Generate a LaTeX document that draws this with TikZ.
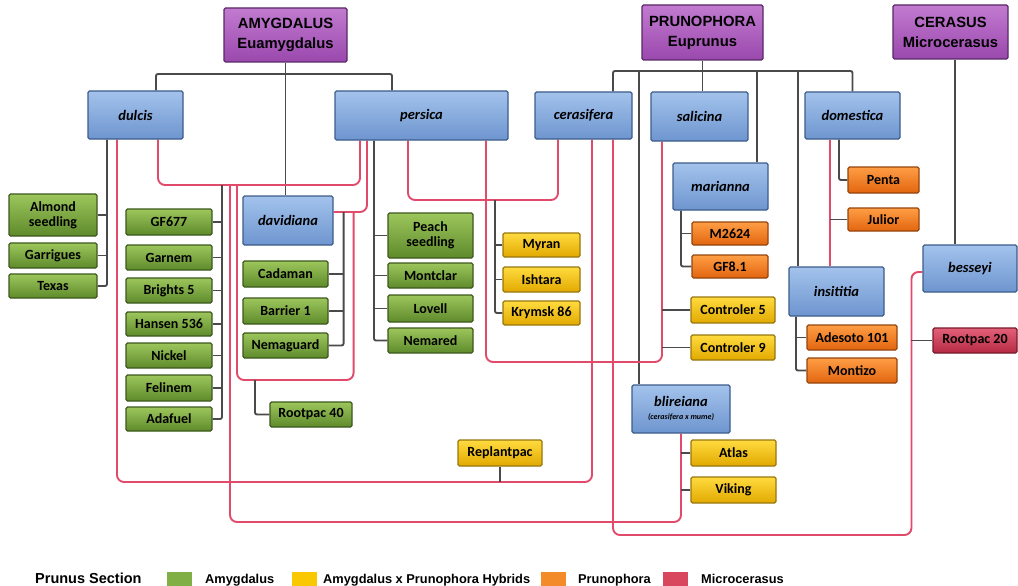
\documentclass[tikz,border=0pt]{standalone}
\usepackage{fontspec}
\setmainfont{Liberation Sans}
\newfontfamily\carl{Carlito}
\usetikzlibrary{backgrounds,calc}
\definecolor{purT}{HTML}{C27BD0}\definecolor{purD}{HTML}{9A48AD}\definecolor{purB}{HTML}{5A2866}
\definecolor{bluT}{HTML}{A3C3EC}\definecolor{bluD}{HTML}{6E95CF}\definecolor{bluB}{HTML}{3D5C8C}
\definecolor{grnT}{HTML}{9DC65C}\definecolor{grnD}{HTML}{5E8A2B}\definecolor{grnB}{HTML}{3D581D}
\definecolor{yelT}{HTML}{FFDB3F}\definecolor{yelD}{HTML}{E2A900}\definecolor{yelB}{HTML}{98770E}
\definecolor{orgT}{HTML}{FF9E45}\definecolor{orgD}{HTML}{E2650F}\definecolor{orgB}{HTML}{96450D}
\definecolor{redT}{HTML}{E4607A}\definecolor{redD}{HTML}{B52A42}\definecolor{redB}{HTML}{781A2A}
\definecolor{rline}{HTML}{E24A6B}\definecolor{dline}{HTML}{4A4A4A}
\definecolor{lgG}{HTML}{7FAF45}\definecolor{lgY}{HTML}{F9C800}\definecolor{lgO}{HTML}{F38C28}\definecolor{lgR}{HTML}{D9475E}
\tikzset{
 box/.style={draw, line width=1.1pt, rounded corners=1.5pt, inner sep=0pt, align=center, text=black},
 pbox/.style={box, draw=purB, top color=purT, bottom color=purD, font=\fontsize{14.8}{20}\selectfont\bfseries},
 bbox/.style={box, draw=bluB, top color=bluT, bottom color=bluD, font=\carl\fontsize{14.5}{16}\selectfont\bfseries\itshape},
 gbox/.style={box, draw=grnB, top color=grnT, bottom color=grnD, font=\carl\fontsize{14}{15}\selectfont\bfseries},
 ybox/.style={box, draw=yelB, top color=yelT, bottom color=yelD, font=\carl\fontsize{14}{15}\selectfont\bfseries},
 obox/.style={box, draw=orgB, top color=orgT, bottom color=orgD, font=\carl\fontsize{14}{15}\selectfont\bfseries},
 rbox/.style={box, draw=redB, top color=redT, bottom color=redD, font=\carl\fontsize{14}{15}\selectfont\bfseries},
 dk/.style={draw=dline, line width=1.9pt, rounded corners=2pt},
 rd/.style={draw=rline, line width=1.9pt, rounded corners=7pt},
 lsq/.style={inner sep=0pt, minimum width=25pt, minimum height=14pt},
 ltx/.style={anchor=base west, inner sep=0pt, font=\fontsize{12.8}{14}\selectfont\bfseries}
}
\begin{document}
\begin{tikzpicture}[x=1pt,y=-1pt]
\begin{scope}[on background layer]
\fill[white] (0,0) rectangle (1018,586);
\end{scope}
\useasboundingbox (0,0) rectangle (1018,586);
% section nodes
\node[pbox, minimum width=123pt, minimum height=54pt] (amy) at (285.5,35) {AMYGDALUS\\Euamygdalus};
\node[pbox, minimum width=121pt, minimum height=55pt] (pru) at (702.5,32.5) {PRUNOPHORA\\Euprunus};
\node[pbox, minimum width=115pt, minimum height=54pt] (cer) at (950.5,32) {CERASUS\\Microcerasus};
% species
\node[bbox, minimum width=95pt, minimum height=48pt] (dulcis) at (135.5,115) {dulcis};
\node[bbox, minimum width=173pt, minimum height=49pt] (persica) at (421.5,115.5) {persica};
\node[bbox, minimum width=97pt, minimum height=47pt] (cerasifera) at (583.5,115.5) {cerasifera};
\node[bbox, minimum width=97pt, minimum height=49pt] (salicina) at (699.5,116.5) {salicina};
\node[bbox, minimum width=95pt, minimum height=47pt] (domestica) at (852.5,115.5) {domestica};
\node[bbox, minimum width=95pt, minimum height=47pt] (marianna) at (720.5,186.5) {marianna};
\node[bbox, minimum width=90pt, minimum height=49pt] (davidiana) at (288,220.5) {davidiana};
\node[bbox, minimum width=95pt, minimum height=49pt] (insititia) at (836.5,291.5) {insititia};
\node[bbox, minimum width=94pt, minimum height=47pt] (besseyi) at (970,268.5) {besseyi};
\node[bbox, minimum width=98pt, minimum height=48pt] (blireiana) at (681,409) {blireiana\\[-3pt]{\fontsize{8}{9}\selectfont (cerasifera x mume)}};
% green
\node[gbox, minimum width=88pt, minimum height=42pt] (almond) at (53,215) {Almond\\seedling};
\node[gbox, minimum width=88pt, minimum height=25pt] (garrigues) at (53,255.5) {Garrigues};
\node[gbox, minimum width=88pt, minimum height=24pt] (texas) at (53,286) {Texas};
\node[gbox, minimum width=86pt, minimum height=26pt] (gf677) at (169,222) {GF677};
\node[gbox, minimum width=86pt, minimum height=25pt] (garnem) at (169,257.5) {Garnem};
\node[gbox, minimum width=86pt, minimum height=25pt] (brights) at (169,290.5) {Brights 5};
\node[gbox, minimum width=86pt, minimum height=24pt] (hansen) at (169,324) {Hansen 536};
\node[gbox, minimum width=86pt, minimum height=25pt] (nickel) at (169,355.5) {Nickel};
\node[gbox, minimum width=86pt, minimum height=26pt] (felinem) at (169,388) {Felinem};
\node[gbox, minimum width=86pt, minimum height=24pt] (adafuel) at (169,419) {Adafuel};
\node[gbox, minimum width=85pt, minimum height=26pt] (cadaman) at (285.5,274) {Cadaman};
\node[gbox, minimum width=85pt, minimum height=26pt] (barrier) at (285.5,311) {Barrier 1};
\node[gbox, minimum width=85pt, minimum height=25pt] (nemaguard) at (285.5,345.5) {Nemaguard};
\node[gbox, minimum width=82pt, minimum height=25pt] (rootpac40) at (311,414.5) {Rootpac 40};
\node[gbox, minimum width=85pt, minimum height=45pt] (peach) at (430.5,235.5) {Peach\\seedling};
\node[gbox, minimum width=85pt, minimum height=25pt] (montclar) at (430.5,275.5) {Montclar};
\node[gbox, minimum width=85pt, minimum height=27pt] (lovell) at (430.5,308.5) {Lovell};
\node[gbox, minimum width=85pt, minimum height=25pt] (nemared) at (430.5,340.5) {Nemared};
% yellow
\node[ybox, minimum width=77pt, minimum height=24pt] (myran) at (541.5,245) {Myran};
\node[ybox, minimum width=77pt, minimum height=25pt] (ishtara) at (541.5,279.5) {Ishtara};
\node[ybox, minimum width=77pt, minimum height=24pt] (krymsk) at (541.5,313) {Krymsk 86};
\node[ybox, minimum width=84pt, minimum height=26pt] (controler5) at (733,310) {Controler 5};
\node[ybox, minimum width=84pt, minimum height=25pt] (controler9) at (733,347.5) {Controler 9};
\node[ybox, minimum width=84pt, minimum height=26pt] (replantpac) at (500,453) {Replantpac};
\node[ybox, minimum width=85pt, minimum height=26pt] (atlas) at (733.5,453) {Atlas};
\node[ybox, minimum width=85pt, minimum height=26pt] (viking) at (733.5,490) {Viking};
% orange
\node[obox, minimum width=76pt, minimum height=23pt] (m2624) at (730,233.5) {M2624};
\node[obox, minimum width=76pt, minimum height=23pt] (gf81) at (730,266.5) {GF8.1};
\node[obox, minimum width=71pt, minimum height=26pt] (penta) at (883.5,180) {Penta};
\node[obox, minimum width=71pt, minimum height=23pt] (julior) at (883.5,219.5) {Julior};
\node[obox, minimum width=90pt, minimum height=25pt] (adesoto) at (852,337.5) {Adesoto 101};
\node[obox, minimum width=90pt, minimum height=25pt] (montizo) at (852,370.5) {Montizo};
% red
\node[rbox, minimum width=84pt, minimum height=25pt] (rootpac20) at (975,340.5) {Rootpac 20};
% legend
\node[anchor=base west, inner sep=0pt, font=\fontsize{14.5}{16}\selectfont\bfseries] (lgt) at (35,583) {Prunus Section};
\node[lsq, fill=lgG] (lq1) at (179.5,579) {};
\node[ltx] (lt1) at (205,583) {Amygdalus};
\node[lsq, fill=lgY] (lq2) at (304.5,579) {};
\node[ltx] (lt2) at (323,583) {Amygdalus x Prunophora Hybrids};
\node[lsq, fill=lgO] (lq3) at (553.5,579) {};
\node[ltx] (lt3) at (578,583) {Prunophora};
\node[lsq, fill=lgR] (lq4) at (675,579) {};
\node[ltx] (lt4) at (701,583) {Microcerasus};
% connectors
\begin{scope}[on background layer]
\coordinate (abar) at (0,74);
\coordinate (pbar) at (0,71);
\draw[dk] (amy.south) -- (amy.south |- davidiana.north);
\coordinate (dtop) at ([xshift=20.5pt]dulcis.north);
\coordinate (ptop) at ([xshift=-29.5pt]persica.north);
\draw[dk] (dtop) |- (abar -| amy.south) -| (ptop);
\draw[dk] (pru.south) -- (pru.south |- salicina.north);
\coordinate (ctop) at ([xshift=29.5pt]cerasifera.north);
\draw[dk] (ctop) |- (pbar -| pru.south) -| (domestica.north);
\coordinate (btop) at ([xshift=-42pt]blireiana.north);
\draw[dk] (btop) -- (btop |- pbar);
\coordinate (mtop) at ([xshift=36.5pt]marianna.north);
\draw[dk] (mtop) -- (mtop |- pbar);
\coordinate (itop) at ([xshift=-38.5pt]insititia.north);
\draw[dk] (itop) -- (itop |- pbar);
\coordinate (bstop) at ([xshift=-15pt]besseyi.north);
\draw[dk] (bstop) -- (bstop |- cer.south);
% dulcis children
\coordinate (dv) at ([xshift=-28.5pt]dulcis.south);
\draw[dk] (dv) |- (texas.east);
\foreach \n in {almond,garrigues} \draw[dk] (\n.east) -- (\n.east -| dv);
% persica children
\coordinate (pv) at ([xshift=-47.5pt]persica.south);
\draw[dk] (pv) |- (nemared.west);
\foreach \n in {peach,montclar,lovell} \draw[dk] (\n.west) -- (\n.west -| pv);
% marianna children
\coordinate (mv) at ([xshift=-39.5pt]marianna.south);
\draw[dk] (mv) |- (gf81.west);
\draw[dk] (m2624.west) -- (m2624.west -| mv);
% domestica
\coordinate (dmv) at ([xshift=-13.5pt]domestica.south);
\draw[dk] (dmv) |- (penta.west);
% insititia
\coordinate (iv) at ([xshift=-40.5pt]insititia.south);
\draw[dk] (iv) |- (montizo.west);
\draw[dk] (adesoto.west) -- (adesoto.west -| iv);
% dulcis x persica
\coordinate (d1) at ([xshift=22.5pt]dulcis.south);
\coordinate (p1) at ([xshift=-61.5pt]persica.south);
\coordinate (yAP) at (0,185);
\draw[rd] (d1) -- (d1 |- yAP) -| (p1);
\coordinate (hv) at (222,185);
\draw[dk] (hv) |- (adafuel.east);
\foreach \n in {gf677,garnem,brights,hansen,nickel,felinem} \draw[dk] (\n.east) -- (\n.east -| hv);
% to blireiana
\coordinate (hb) at (230,185);
\coordinate (yBL) at (0,522);
\draw[rd] (hb) -- (hb |- yBL) -| (blireiana.south);
\foreach \n in {atlas,viking} \draw[dk] (\n.west) -- (\n.west -| blireiana.south);
% persica x davidiana
\coordinate (dvr) at ([yshift=8.5pt]davidiana.east);
\coordinate (p2) at ([xshift=-54.5pt]persica.south);
\draw[rd] (p2) |- (dvr);
\coordinate (dvd) at ([xshift=10pt]dvr);
\draw[dk] (dvd) |- (nemaguard.east);
\foreach \n in {cadaman,barrier} \draw[dk] (\n.east) -- (\n.east -| dvd);
\coordinate (lA) at (237,185);
\coordinate (lB) at ([xshift=20pt]dvr);
\coordinate (yL) at (0,380);
\draw[rd] (lA) -- (lA |- yL) -| (lB);
\coordinate (r40) at (255,380);
\draw[dk] (r40) |- (rootpac40.west);
% persica x cerasifera
\coordinate (p3) at ([xshift=-13.5pt]persica.south);
\coordinate (c1) at ([xshift=-25.5pt]cerasifera.south);
\coordinate (yPC) at (0,200);
\draw[rd] (p3) -- (p3 |- yPC) -| (c1);
\coordinate (pcv) at (495,200);
\draw[dk] (pcv) |- (krymsk.west);
\foreach \n in {myran,ishtara} \draw[dk] (\n.west) -- (\n.west -| pcv);
% persica x salicina
\coordinate (p4) at ([xshift=64.5pt]persica.south);
\coordinate (sv) at ([xshift=-37.5pt]salicina.south);
\coordinate (yPS) at (0,362);
\draw[rd] (p4) -- (p4 |- yPS) -| (sv);
\foreach \n in {controler5,controler9} \draw[dk] (\n.west) -- (\n.west -| sv);
% dulcis x cerasifera
\coordinate (d2) at ([xshift=-18.5pt]dulcis.south);
\coordinate (c2) at ([xshift=8.5pt]cerasifera.south);
\coordinate (yDC) at (0,482);
\draw[rd] (d2) -- (d2 |- yDC) -| (c2);
\draw[dk] (replantpac.south) -- (replantpac.south |- yDC);
% cerasifera x besseyi
\coordinate (c3) at ([xshift=29.5pt]cerasifera.south);
\coordinate (bw) at ([yshift=-3.5pt]besseyi.west);
\coordinate (bx) at ([xshift=-11pt]bw);
\coordinate (yCB) at (0,535);
\draw[rd] (c3) -- (c3 |- yCB) -| (bx) -- (bw);
\draw[dk] (rootpac20.west) -- (rootpac20.west -| bx);
% domestica x insititia
\coordinate (dm2) at ([xshift=-22.5pt]domestica.south);
\draw[rd] (dm2) -- (dm2 |- insititia.north);
\draw[dk] (julior.west) -- (julior.west -| dm2);
\end{scope}
\end{tikzpicture}
\end{document}
